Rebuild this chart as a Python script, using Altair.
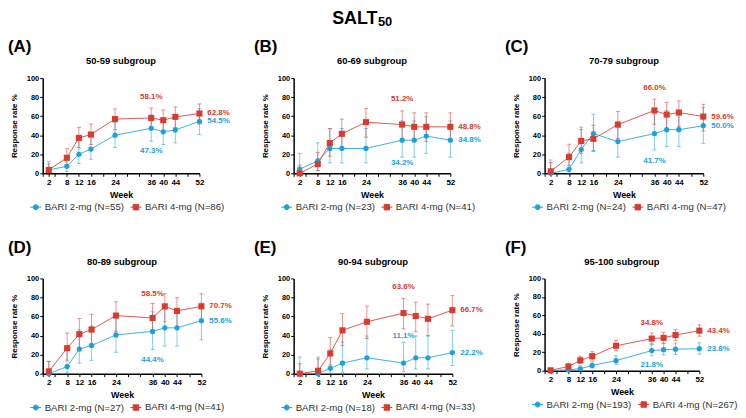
import altair as alt
import pandas as pd

FONT = "Liberation Sans"
BLUE = "#1DA1DC"
RED = "#DB3A2F"

weeks = [2, 8, 12, 16, 24, 36, 40, 44, 52]
x_tick_values = [0, 2, 4, 8, 12, 16, 20, 24, 28, 32, 36, 40, 44, 48, 52]
x_label_values = [2, 8, 12, 16, 24, 36, 40, 44, 52]
y_tick_values = [0, 20, 40, 60, 80, 100]

panel_letters = ["(A)", "(B)", "(C)", "(D)", "(E)", "(F)"]
subgroups = ["50-59 subgroup", "60-69 subgroup", "70-79 subgroup",
             "80-89 subgroup", "90-94 subgroup", "95-100 subgroup"]
n_2mg = [55, 23, 24, 27, 18, 193]
n_4mg = [86, 41, 47, 41, 33, 267]

# BARI 2-mg response rates (%) and CI bounds
A_2mg = [3.6, 7.3, 20.0, 25.5, 40.0, 47.3, 43.6, 45.5, 54.5]
A_2mg_lo = [0.4, 2.0, 10.4, 14.7, 27.0, 33.7, 30.3, 32.0, 40.6]
A_2mg_hi = [12.5, 17.6, 33.0, 39.0, 53.7, 61.2, 57.7, 59.3, 68.0]
B_2mg = [4.3, 13.0, 26.1, 26.1, 26.1, 34.8, 34.8, 39.1, 34.8]
B_2mg_lo = [0.1, 2.8, 11.0, 11.0, 11.0, 17.0, 17.0, 21.0, 17.0]
B_2mg_hi = [21.0, 32.0, 47.0, 47.0, 47.0, 55.0, 55.0, 59.5, 55.0]
C_2mg = [0.0, 4.2, 25.0, 41.7, 33.3, 41.7, 45.8, 45.8, 50.0]
C_2mg_lo = [0.0, 0.1, 11.0, 24.0, 17.0, 24.5, 28.0, 28.0, 31.5]
C_2mg_hi = [14.0, 21.0, 46.0, 62.0, 54.0, 62.0, 66.0, 66.0, 69.0]
D_2mg = [0.0, 7.4, 25.9, 29.6, 40.7, 44.4, 48.1, 48.1, 55.6]
D_2mg_lo = [0.0, 0.9, 11.0, 14.0, 22.4, 25.5, 29.0, 29.0, 35.5]
D_2mg_hi = [12.8, 24.3, 46.0, 50.0, 61.0, 65.0, 68.0, 68.0, 74.0]
E_2mg = [0.0, 0.0, 5.6, 11.1, 16.7, 11.1, 16.7, 16.7, 22.2]
E_2mg_lo = [0.0, 0.0, 0.1, 1.4, 5.0, 2.5, 5.0, 5.0, 8.5]
E_2mg_hi = [17.5, 17.5, 25.5, 33.0, 39.5, 33.0, 39.5, 39.5, 45.5]
F_2mg = [0.0, 1.0, 2.1, 5.7, 10.9, 21.8, 22.8, 23.3, 23.8]
F_2mg_lo = [0.0, 0.1, 0.6, 2.9, 6.9, 16.2, 17.2, 17.6, 18.0]
F_2mg_hi = [1.9, 3.7, 5.2, 9.9, 16.2, 28.3, 29.3, 29.9, 30.2]

# BARI 4-mg response rates (%) and CI bounds
A_4mg = [3.5, 16.3, 37.2, 40.7, 57.0, 58.1, 55.8, 59.3, 62.8]
A_4mg_lo = [0.7, 9.2, 27.0, 30.2, 45.9, 47.0, 44.7, 48.2, 51.7]
A_4mg_hi = [9.9, 25.9, 48.3, 51.8, 67.6, 68.6, 66.5, 69.7, 72.9]
B_4mg = [0.0, 9.8, 31.7, 41.5, 53.7, 51.2, 48.8, 48.8, 48.8]
B_4mg_lo = [0.0, 2.7, 18.0, 26.5, 38.0, 35.5, 33.5, 33.5, 33.5]
B_4mg_hi = [8.6, 22.0, 47.0, 57.0, 68.0, 65.5, 63.5, 63.5, 63.5]
C_4mg = [2.1, 17.0, 34.0, 36.2, 51.1, 66.0, 61.7, 63.8, 59.6]
C_4mg_lo = [0.05, 8.0, 21.0, 23.0, 36.5, 51.5, 46.5, 49.0, 44.5]
C_4mg_hi = [11.3, 30.5, 48.5, 50.5, 65.0, 78.0, 74.5, 76.0, 72.5]
D_4mg = [2.4, 26.8, 41.5, 46.3, 61.0, 58.5, 70.7, 65.9, 70.7]
D_4mg_lo = [0.06, 14.2, 26.3, 30.7, 44.5, 42.0, 54.5, 49.5, 54.5]
D_4mg_hi = [12.9, 42.6, 57.9, 62.4, 75.5, 73.7, 83.9, 79.8, 83.9]
E_4mg = [0.0, 3.0, 21.2, 45.5, 54.5, 63.6, 60.6, 57.6, 66.7]
E_4mg_lo = [0.0, 0.1, 9.0, 29.5, 37.0, 47.0, 44.0, 40.0, 50.0]
E_4mg_hi = [10.5, 15.5, 38.0, 63.0, 71.0, 79.0, 75.0, 73.0, 82.0]
F_4mg = [0.4, 4.5, 11.2, 15.7, 27.0, 34.8, 35.6, 38.6, 43.4]
F_4mg_lo = [0.0, 2.3, 7.7, 11.6, 21.8, 29.1, 29.8, 32.7, 37.4]
F_4mg_hi = [2.0, 7.7, 15.6, 20.6, 32.8, 40.8, 41.6, 44.7, 49.6]

# annotations
top_labels = ["58.1%", "51.2%", "66.0%", "58.5%", "63.6%", "34.8%"]
top_label_y = [80, 78, 90, 84, 90.5, 52]
bottom_labels = ["47.3%", "34.2%", "41.7%", "44.4%", "11.1%", "21.8%"]
bottom_label_y = [23, 10.5, 12.5, 14.4, 39.5, 5.7]
end_labels_4mg = ["62.8%", "48.8%", "59.6%", "70.7%", "66.7%", "43.4%"]
end_labels_2mg = ["54.5%", "34.8%", "50.0%", "55.6%", "22.2%", "23.8%"]
annot_week = 36

series_2mg = [(A_2mg, A_2mg_lo, A_2mg_hi), (B_2mg, B_2mg_lo, B_2mg_hi), (C_2mg, C_2mg_lo, C_2mg_hi),
              (D_2mg, D_2mg_lo, D_2mg_hi), (E_2mg, E_2mg_lo, E_2mg_hi), (F_2mg, F_2mg_lo, F_2mg_hi)]
series_4mg = [(A_4mg, A_4mg_lo, A_4mg_hi), (B_4mg, B_4mg_lo, B_4mg_hi), (C_4mg, C_4mg_lo, C_4mg_hi),
              (D_4mg, D_4mg_lo, D_4mg_hi), (E_4mg, E_4mg_lo, E_4mg_hi), (F_4mg, F_4mg_lo, F_4mg_hi)]

widths = [158, 158, 160, 160, 160, 156]
heights = [96, 96, 96, 96, 96, 93]
letter_dx = [-35, -40, -40, -35, -40, -40]

CIRCLE_PATH = "M-1,0H1M0.46,0A0.46,0.46,0,1,1,-0.46,0A0.46,0.46,0,1,1,0.46,0Z"
SQUARE_PATH = "M-1,0H1M-0.5,-0.5H0.5V0.5H-0.5Z"

LABEL_EXPR = "indexof(" + str(x_label_values) + ", datum.value) >= 0 ? datum.label : ''"
X_AXIS = alt.Axis(values=x_tick_values, labelExpr=LABEL_EXPR, title="Week",
                  tickSize=3, labelPadding=2, titlePadding=4,
                  labelFontSize=8, labelFontWeight="bold", titleFontSize=9,
                  titleFontWeight="bold", labelFlush=False, labelOverlap=False)
Y_AXIS = alt.Axis(values=y_tick_values, title="Response rate %", tickSize=3,
                  labelPadding=1, titlePadding=8, labelFontSize=7.5, labelOverlap=False,
                  labelFontWeight="bold", titleFontSize=8, titleFontWeight="bold")


def xenc():
    return alt.X("week:Q", scale=alt.Scale(domain=[0, 52], nice=False), axis=X_AXIS, title="Week")


def yenc(field):
    return alt.Y(f"{field}:Q", scale=alt.Scale(domain=[0, 100], nice=False), axis=Y_AXIS,
                 title="Response rate %")


def make_panel(i):
    w, h = widths[i], heights[i]
    lab2 = f"BARI 2-mg (N={n_2mg[i]})"
    lab4 = f"BARI 4-mg (N={n_4mg[i]})"
    rows = []
    for lab, (vals, los, his) in ((lab2, series_2mg[i]), (lab4, series_4mg[i])):
        for wk, v, lo, hi in zip(weeks, vals, los, his):
            rows.append({"week": wk, "rate": v, "lo": lo, "hi": hi, "series": lab})
    df = pd.DataFrame(rows)
    base = alt.Chart(df)

    # legend-only layer (invisible marks)
    legend = alt.Legend(
        orient="none", legendX=-13, legendY=h + 28, direction="horizontal",
        title=None, labelFont=FONT, labelFontSize=9.7, labelColor="#333333",
        symbolSize=121, labelOffset=3, columnPadding=4, padding=0,
        symbolStrokeWidth=1, symbolOpacity=1,
    )
    dom = [lab2, lab4]
    leg_layer = base.mark_point(filled=True, opacity=0, size=1).encode(
        x=xenc(), y=yenc("rate"),
        fill=alt.Fill("series:N", scale=alt.Scale(domain=dom, range=[BLUE, RED]), legend=legend),
        stroke=alt.Stroke("series:N", scale=alt.Scale(domain=dom, range=[BLUE, RED]), legend=legend),
        shape=alt.Shape("series:N", scale=alt.Scale(domain=dom, range=[CIRCLE_PATH, SQUARE_PATH]), legend=legend),
    )

    layers = [leg_layer]
    specs = ((lab2, BLUE, "circle", 28), (lab4, RED, "square", 38))
    for lab, col, shp, sz in specs:
        sb = base.transform_filter(alt.datum.series == lab)
        layers.append(sb.mark_rule(strokeWidth=1, opacity=0.55, color=col).encode(
            x=xenc(), y=yenc("lo"), y2="hi:Q"))
        layers.append(sb.mark_tick(orient="horizontal", size=4, thickness=1, opacity=0.55,
                                   color=col).encode(x=xenc(), y=yenc("lo")))
        layers.append(sb.mark_tick(orient="horizontal", size=4, thickness=1, opacity=0.55,
                                   color=col).encode(x=xenc(), y=yenc("hi")))
    for lab, col, shp, sz in specs:
        sb = base.transform_filter(alt.datum.series == lab)
        layers.append(sb.mark_line(strokeWidth=1, opacity=0.85, color=col).encode(
            x=xenc(), y=yenc("rate"), order="week:Q"))
    for lab, col, shp, sz in specs:
        sb = base.transform_filter(alt.datum.series == lab)
        layers.append(sb.mark_point(filled=True, opacity=1, color=col, shape=shp, size=sz).encode(
            x=xenc(), y=yenc("rate")))

    ann_df = pd.DataFrame({
        "week": [annot_week, annot_week, 52, 52],
        "rate": [top_label_y[i], bottom_label_y[i], series_4mg[i][0][-1], series_2mg[i][0][-1]],
        "txt": [top_labels[i], bottom_labels[i], end_labels_4mg[i], end_labels_2mg[i]],
        "col": ["r", "b", "r", "b"],
        "pos": ["mid", "mid", "end", "end"],
    })
    for cval, col in (("r", RED), ("b", BLUE)):
        ab = alt.Chart(ann_df).transform_filter(alt.datum.col == cval)
        layers.append(ab.transform_filter("datum.pos == 'mid'").mark_text(
            font=FONT, fontSize=8, fontWeight="bold", align="center", baseline="middle",
            color=col).encode(x=xenc(), y=yenc("rate"), text="txt:N"))
        layers.append(ab.transform_filter("datum.pos == 'end'").mark_text(
            font=FONT, fontSize=8, fontWeight="bold", align="left", baseline="middle", dx=8,
            color=col).encode(x=xenc(), y=yenc("rate"), text="txt:N"))

    head_df = pd.DataFrame({"letter": [panel_letters[i]], "sub": [subgroups[i]]})
    layers.append(alt.Chart(head_df).mark_text(
        font=FONT, fontSize=17, fontWeight="bold", align="left", baseline="alphabetic",
        color="black").encode(x=alt.value(letter_dx[i]), y=alt.value(-26), text="letter:N"))
    layers.append(alt.Chart(head_df).mark_text(
        font=FONT, fontSize=9.5, fontWeight="bold", align="center", baseline="alphabetic",
        color="black").encode(x=alt.value(w / 2), y=alt.value(-14), text="sub:N"))

    if i == 1:
        title_df = pd.DataFrame({"main": ["SALT"], "subs": ["50"]})
        layers.append(alt.Chart(title_df).mark_text(
            font=FONT, fontSize=18, fontWeight="bold", align="right", baseline="alphabetic",
            color="black").encode(x=alt.value(84.5), y=alt.value(-55), text="main:N"))
        layers.append(alt.Chart(title_df).mark_text(
            font=FONT, fontSize=13, fontWeight="bold", align="left", baseline="alphabetic",
            color="black").encode(x=alt.value(85), y=alt.value(-53), text="subs:N"))

    return alt.layer(*layers).properties(width=w, height=h)


panels = [make_panel(i) for i in range(6)]

chart = alt.concat(
    *panels, columns=3, spacing={"row": 106, "column": 93}, bounds="flush"
).resolve_scale(
    fill="independent", stroke="independent", shape="independent"
).properties(
    padding=0
).configure_view(
    stroke=None
).configure_axis(
    labelFont=FONT, titleFont=FONT, labelColor="black", titleColor="black",
    domainColor="black", tickColor="black", domainWidth=1.5, tickWidth=1, grid=False,
    labelOverlap=False
).configure_text(font=FONT)

chart.save("out.html", embed_options={"renderer": "svg", "actions": False})
